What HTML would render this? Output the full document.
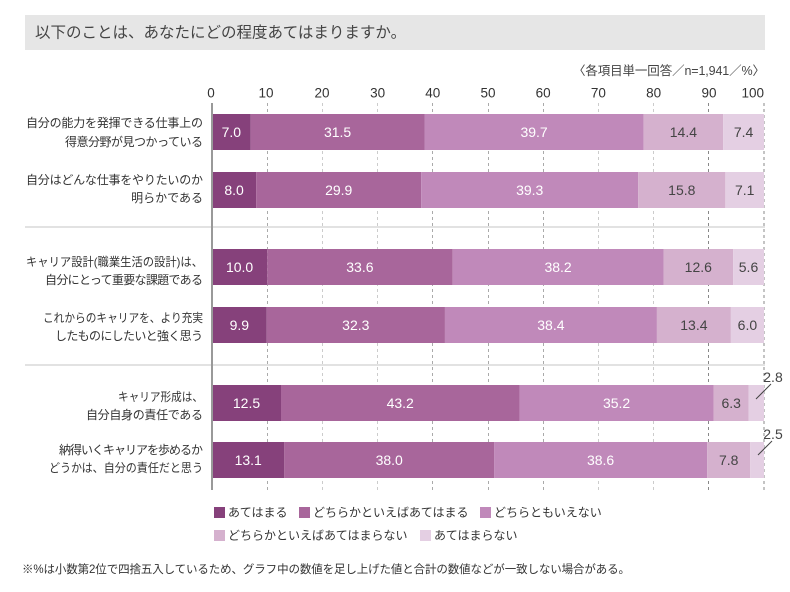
<!DOCTYPE html>
<html>
<head>
<meta charset="utf-8">
<style>
html,body{margin:0;padding:0;background:#fff;}
svg{display:block;font-family:"Liberation Sans","Noto Sans CJK JP",sans-serif;}
</style>
</head>
<body>
<svg width="790" height="592" viewBox="0 0 790 592" xmlns="http://www.w3.org/2000/svg">
  <!-- title -->
  <rect x="25" y="15" width="740" height="35" fill="#e6e6e6"/>
  <text x="35" y="33" font-size="15.5" fill="#444" dominant-baseline="central">以下のことは、あなたにどの程度あてはまりますか。</text>
  <text x="765" y="71" font-size="12.5" fill="#444" text-anchor="end" dominant-baseline="central" textLength="192" lengthAdjust="spacing">〈各項目単一回答／n=1,941／%〉</text>

  <!-- tick labels -->
  <g font-size="13.5" fill="#333" text-anchor="middle" dominant-baseline="central">
    <text x="211" y="93">0</text>
    <text x="266" y="93">10</text>
    <text x="322" y="93">20</text>
    <text x="377.6" y="93">30</text>
    <text x="432.8" y="93">40</text>
    <text x="488" y="93">50</text>
    <text x="543.2" y="93">60</text>
    <text x="598.4" y="93">70</text>
    <text x="653.6" y="93">80</text>
    <text x="709" y="93">90</text>
    <text x="764" y="93" text-anchor="end">100</text>
  </g>

  <!-- gridlines -->
  <g stroke="#aaaaaa" stroke-width="1" stroke-dasharray="3,3">
    <line x1="267.5" y1="103" x2="267.5" y2="490"/>
    <line x1="322.5" y1="103" x2="322.5" y2="490" stroke="#cccccc"/>
    <line x1="377.5" y1="103" x2="377.5" y2="490" stroke="#cccccc"/>
    <line x1="432.5" y1="103" x2="432.5" y2="490"/>
    <line x1="488.5" y1="103" x2="488.5" y2="490"/>
    <line x1="543.5" y1="103" x2="543.5" y2="490"/>
    <line x1="598.5" y1="103" x2="598.5" y2="490" stroke="#cccccc"/>
    <line x1="653.5" y1="103" x2="653.5" y2="490" stroke="#cccccc"/>
    <line x1="708.5" y1="103" x2="708.5" y2="490" stroke="#888888"/>
    <line x1="764" y1="103" x2="764" y2="490" stroke="#888888"/>
  </g>

  <!-- separators -->
  <rect x="25" y="226" width="740" height="2" fill="#e2e2e2"/>
  <rect x="25" y="364" width="740" height="2" fill="#e2e2e2"/>

  <!-- bars -->
  <g>
    <rect x="212" y="114" width="38.64" height="36" fill="#86417b"/>
    <rect x="250.64" y="114" width="173.88" height="36" fill="#a8669b"/>
    <rect x="424.52" y="114" width="219.14" height="36" fill="#c089ba"/>
    <rect x="643.66" y="114" width="79.49" height="36" fill="#d5b1ce"/>
    <rect x="723.15" y="114" width="40.85" height="36" fill="#e4cfe3"/>

    <rect x="212" y="172" width="44.16" height="36" fill="#86417b"/>
    <rect x="256.16" y="172" width="165.05" height="36" fill="#a8669b"/>
    <rect x="421.21" y="172" width="216.93" height="36" fill="#c089ba"/>
    <rect x="638.14" y="172" width="87.22" height="36" fill="#d5b1ce"/>
    <rect x="725.36" y="172" width="38.64" height="36" fill="#e4cfe3"/>

    <rect x="212" y="249" width="55.2" height="36" fill="#86417b"/>
    <rect x="267.2" y="249" width="185.47" height="36" fill="#a8669b"/>
    <rect x="452.67" y="249" width="210.87" height="36" fill="#c089ba"/>
    <rect x="663.54" y="249" width="69.55" height="36" fill="#d5b1ce"/>
    <rect x="733.09" y="249" width="30.91" height="36" fill="#e4cfe3"/>

    <rect x="212" y="307" width="54.65" height="36" fill="#86417b"/>
    <rect x="266.65" y="307" width="178.29" height="36" fill="#a8669b"/>
    <rect x="444.94" y="307" width="211.97" height="36" fill="#c089ba"/>
    <rect x="656.91" y="307" width="73.97" height="36" fill="#d5b1ce"/>
    <rect x="730.88" y="307" width="33.12" height="36" fill="#e4cfe3"/>

    <rect x="212" y="385" width="69" height="36" fill="#86417b"/>
    <rect x="281" y="385" width="238.46" height="36" fill="#a8669b"/>
    <rect x="519.46" y="385" width="194.31" height="36" fill="#c089ba"/>
    <rect x="713.77" y="385" width="34.77" height="36" fill="#d5b1ce"/>
    <rect x="748.54" y="385" width="15.46" height="36" fill="#e4cfe3"/>

    <rect x="212" y="442" width="72.31" height="36" fill="#86417b"/>
    <rect x="284.31" y="442" width="209.76" height="36" fill="#a8669b"/>
    <rect x="494.07" y="442" width="213.07" height="36" fill="#c089ba"/>
    <rect x="707.14" y="442" width="43.06" height="36" fill="#d5b1ce"/>
    <rect x="750.2" y="442" width="13.8" height="36" fill="#e4cfe3"/>
  </g>

  <!-- axis line -->
  <rect x="211" y="103" width="2" height="387" fill="#999999"/>

  <!-- value labels -->
  <g font-size="14" text-anchor="middle" dominant-baseline="central" fill="#ffffff">
    <text x="231.3" y="132">7.0</text><text x="337.6" y="132">31.5</text><text x="534.1" y="132">39.7</text>
    <text x="234.1" y="190">8.0</text><text x="338.7" y="190">29.9</text><text x="529.7" y="190">39.3</text>
    <text x="239.6" y="267">10.0</text><text x="359.9" y="267">33.6</text><text x="558.1" y="267">38.2</text>
    <text x="239.3" y="325">9.9</text><text x="355.8" y="325">32.3</text><text x="550.9" y="325">38.4</text>
    <text x="246.5" y="403">12.5</text><text x="400.2" y="403">43.2</text><text x="616.6" y="403">35.2</text>
    <text x="248.2" y="460">13.1</text><text x="389.2" y="460">38.0</text><text x="600.6" y="460">38.6</text>
  </g>
  <g font-size="14" text-anchor="middle" dominant-baseline="central" fill="#444444">
    <text x="683.4" y="132">14.4</text><text x="743.6" y="132">7.4</text>
    <text x="681.8" y="190">15.8</text><text x="744.7" y="190">7.1</text>
    <text x="698.3" y="267">12.6</text><text x="748.5" y="267">5.6</text>
    <text x="693.9" y="325">13.4</text><text x="747.4" y="325">6.0</text>
    <text x="731.2" y="403">6.3</text>
    <text x="728.7" y="460">7.8</text>
    <text x="773" y="377">2.8</text>
    <text x="773" y="434">2.5</text>
  </g>
  <line x1="756" y1="399" x2="771" y2="384" stroke="#444" stroke-width="1"/>
  <line x1="758" y1="455" x2="772" y2="441" stroke="#444" stroke-width="1"/>

  <!-- row labels -->
  <g font-size="12" fill="#333" text-anchor="end" dominant-baseline="central">
    <text x="203" y="123" textLength="177" lengthAdjust="spacing">自分の能力を発揮できる仕事上の</text>
    <text x="203" y="142" textLength="138" lengthAdjust="spacing">得意分野が見つかっている</text>
    <text x="203" y="180" textLength="177" lengthAdjust="spacing">自分はどんな仕事をやりたいのか</text>
    <text x="203" y="198">明らかである</text>
    <text x="203" y="262" textLength="177" lengthAdjust="spacingAndGlyphs">キャリア設計(職業生活の設計)は、</text>
    <text x="203" y="280" textLength="158" lengthAdjust="spacing">自分にとって重要な課題である</text>
    <text x="203" y="318" textLength="160" lengthAdjust="spacingAndGlyphs">これからのキャリアを、より充実</text>
    <text x="203" y="336" textLength="148" lengthAdjust="spacing">したものにしたいと強く思う</text>
    <text x="203" y="397" textLength="85" lengthAdjust="spacingAndGlyphs">キャリア形成は、</text>
    <text x="203" y="415" textLength="117" lengthAdjust="spacing">自分自身の責任である</text>
    <text x="203" y="450" textLength="144" lengthAdjust="spacing">納得いくキャリアを歩めるか</text>
    <text x="203" y="468" textLength="154" lengthAdjust="spacingAndGlyphs">どうかは、自分の責任だと思う</text>
  </g>

  <!-- legend -->
  <g font-size="12" fill="#333" dominant-baseline="central">
    <rect x="214" y="507" width="11" height="11" fill="#86417b"/>
    <text x="228" y="512.5">あてはまる</text>
    <rect x="299" y="507" width="11" height="11" fill="#a8669b"/>
    <text x="313" y="512.5">どちらかといえばあてはまる</text>
    <rect x="480" y="507" width="11" height="11" fill="#c089ba"/>
    <text x="494" y="512.5">どちらともいえない</text>
    <rect x="214" y="530" width="11" height="11" fill="#d5b1ce"/>
    <text x="228" y="535.5">どちらかといえばあてはまらない</text>
    <rect x="420" y="530" width="11" height="11" fill="#e4cfe3"/>
    <text x="434" y="535.5">あてはまらない</text>
  </g>

  <!-- footnote -->
  <text x="22" y="570" font-size="11.5" fill="#333" dominant-baseline="central" textLength="608" lengthAdjust="spacing">※%は小数第2位で四捨五入しているため、グラフ中の数値を足し上げた値と合計の数値などが一致しない場合がある。</text>
</svg>
</body>
</html>
